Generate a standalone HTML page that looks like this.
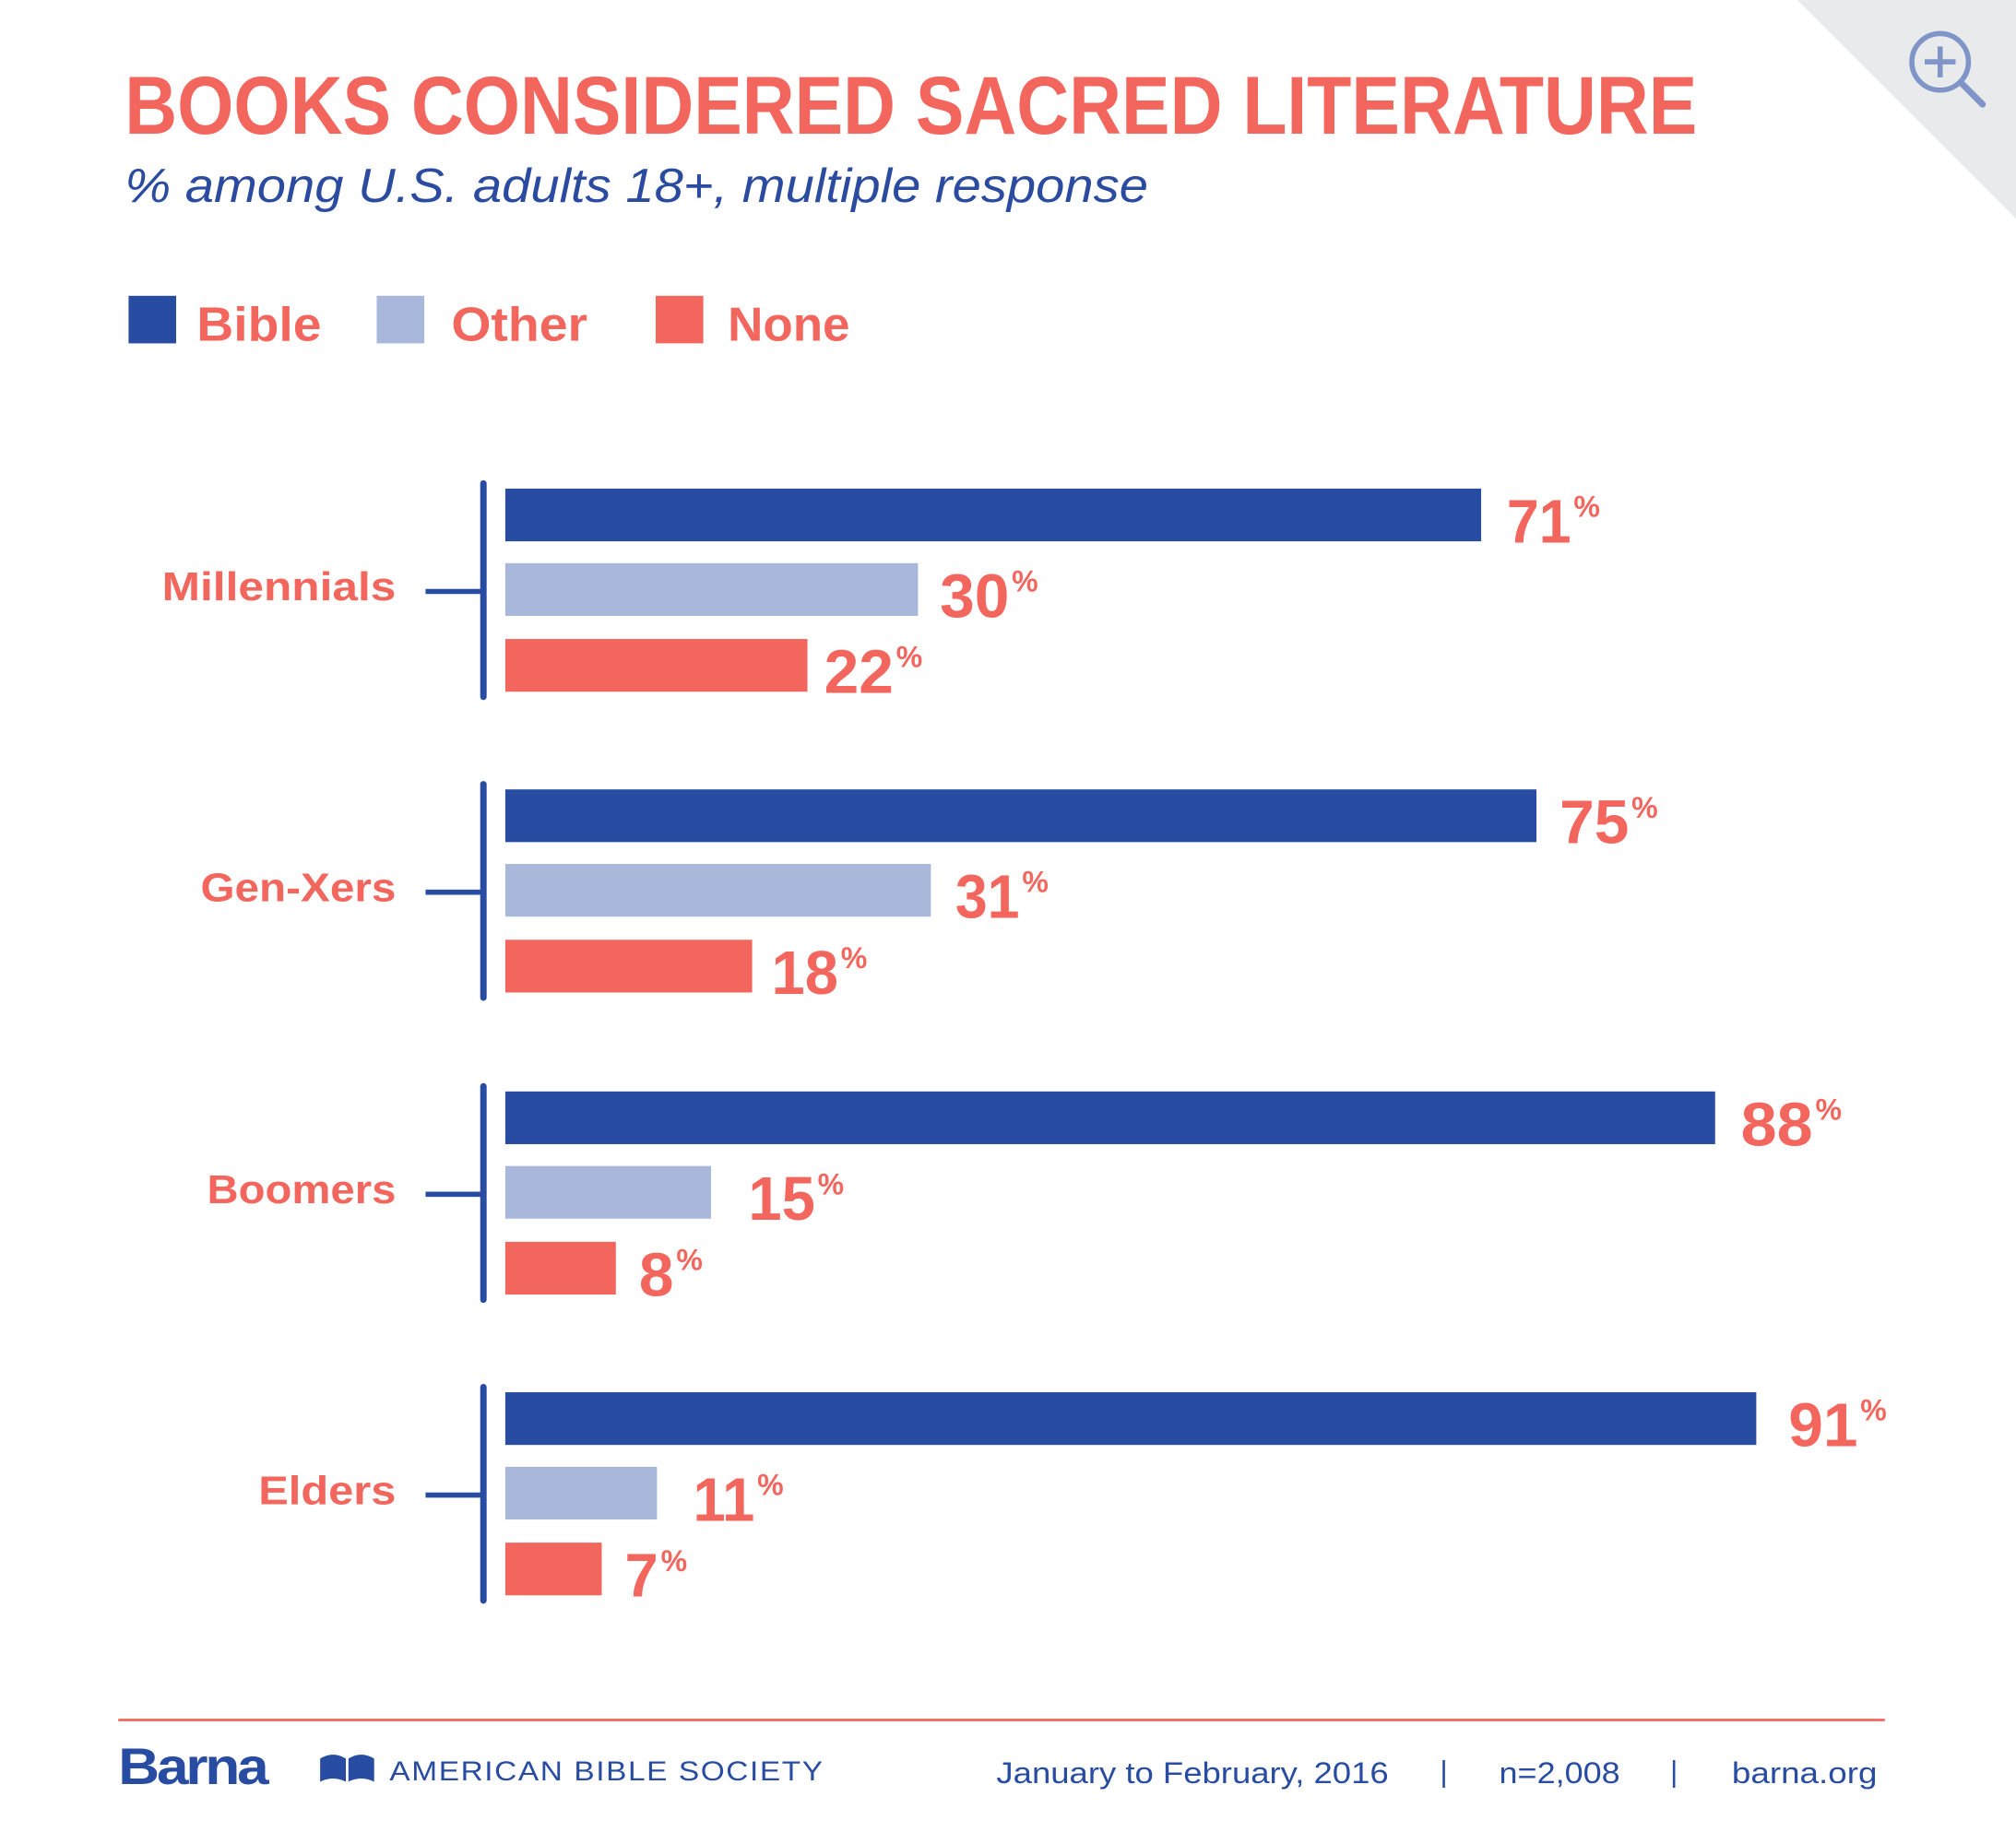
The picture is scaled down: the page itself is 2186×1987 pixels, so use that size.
<!DOCTYPE html>
<html><head><meta charset="utf-8"><style>
html,body{margin:0;padding:0;background:#fff;}
svg{display:block;}
text{font-family:"Liberation Sans",sans-serif;}
</style></head><body>
<svg width="2186" height="1987" viewBox="0 0 1568 1425" xmlns="http://www.w3.org/2000/svg">
<rect width="1568" height="1425" fill="#fff"/>
<polygon points="1398,0 1568,0 1568,170" fill="#e9eaec"/>
<circle cx="1509" cy="48" r="22" fill="none" stroke="#7f95c8" stroke-width="4"/>
<line x1="1509" y1="36" x2="1509" y2="60" stroke="#7f95c8" stroke-width="4"/>
<line x1="1497" y1="48" x2="1521" y2="48" stroke="#7f95c8" stroke-width="4"/>
<line x1="1525" y1="64" x2="1542" y2="81" stroke="#7f95c8" stroke-width="5" stroke-linecap="round"/>

<text x="97" y="104" font-size="64" font-weight="bold" fill="#f2665e" textLength="1223" lengthAdjust="spacingAndGlyphs">BOOKS CONSIDERED SACRED LITERATURE</text>
<text x="97" y="157" font-size="37" font-style="italic" fill="#2a4ba0" textLength="796" lengthAdjust="spacingAndGlyphs">% among U.S. adults 18+, multiple response</text>

<rect x="100" y="230" width="37" height="37" fill="#284ca1"/>
<text x="153" y="265" font-size="37" font-weight="bold" fill="#f2665e" textLength="97" lengthAdjust="spacingAndGlyphs">Bible</text>
<rect x="293" y="230" width="37" height="37" fill="#a9b7da"/>
<text x="351" y="265" font-size="37" font-weight="bold" fill="#f2665e" textLength="106" lengthAdjust="spacingAndGlyphs">Other</text>
<rect x="510" y="230" width="37" height="37" fill="#f2665e"/>
<text x="566" y="265" font-size="37" font-weight="bold" fill="#f2665e" textLength="95" lengthAdjust="spacingAndGlyphs">None</text>

<g stroke="#284ca1">
<line x1="376" y1="376" x2="376" y2="542" stroke-width="5" stroke-linecap="round"/>
<line x1="331" y1="460" x2="376" y2="460" stroke-width="4"/>
<line x1="376" y1="610" x2="376" y2="776" stroke-width="5" stroke-linecap="round"/>
<line x1="331" y1="694" x2="376" y2="694" stroke-width="4"/>
<line x1="376" y1="845" x2="376" y2="1011" stroke-width="5" stroke-linecap="round"/>
<line x1="331" y1="929" x2="376" y2="929" stroke-width="4"/>
<line x1="376" y1="1079" x2="376" y2="1245" stroke-width="5" stroke-linecap="round"/>
<line x1="331" y1="1163" x2="376" y2="1163" stroke-width="4"/>
</g>

<g font-size="31" font-weight="bold" fill="#f2665e">
<text x="126" y="467" textLength="182" lengthAdjust="spacingAndGlyphs">Millennials</text>
<text x="156" y="701" textLength="152" lengthAdjust="spacingAndGlyphs">Gen-Xers</text>
<text x="161" y="936" textLength="147" lengthAdjust="spacingAndGlyphs">Boomers</text>
<text x="201" y="1170" textLength="107" lengthAdjust="spacingAndGlyphs">Elders</text>
</g>

<rect x="393" y="380" width="759" height="41" fill="#284ca1"/>
<rect x="393" y="438" width="321" height="41" fill="#a9b7da"/>
<rect x="393" y="497" width="235" height="41" fill="#f2665e"/>
<rect x="393" y="614" width="802" height="41" fill="#284ca1"/>
<rect x="393" y="672" width="331" height="41" fill="#a9b7da"/>
<rect x="393" y="731" width="192" height="41" fill="#f2665e"/>
<rect x="393" y="849" width="941" height="41" fill="#284ca1"/>
<rect x="393" y="907" width="160" height="41" fill="#a9b7da"/>
<rect x="393" y="966" width="86" height="41" fill="#f2665e"/>
<rect x="393" y="1083" width="973" height="41" fill="#284ca1"/>
<rect x="393" y="1141" width="118" height="41" fill="#a9b7da"/>
<rect x="393" y="1200" width="75" height="41" fill="#f2665e"/>

<g font-weight="bold" fill="#f2665e">
<g font-size="48">
<text x="1172" y="422" textLength="50" lengthAdjust="spacingAndGlyphs">71</text>
<text x="731" y="480" textLength="54" lengthAdjust="spacingAndGlyphs">30</text>
<text x="641" y="539" textLength="54" lengthAdjust="spacingAndGlyphs">22</text>
<text x="1213" y="656" textLength="54" lengthAdjust="spacingAndGlyphs">75</text>
<text x="743" y="714" textLength="50" lengthAdjust="spacingAndGlyphs">31</text>
<text x="600" y="773" textLength="52" lengthAdjust="spacingAndGlyphs">18</text>
<text x="1354" y="891" textLength="56" lengthAdjust="spacingAndGlyphs">88</text>
<text x="582" y="949" textLength="52" lengthAdjust="spacingAndGlyphs">15</text>
<text x="497" y="1008" textLength="27" lengthAdjust="spacingAndGlyphs">8</text>
<text x="1391" y="1125" textLength="54" lengthAdjust="spacingAndGlyphs">91</text>
<text x="539" y="1183" textLength="48" lengthAdjust="spacingAndGlyphs">11</text>
<text x="486" y="1242" textLength="26" lengthAdjust="spacingAndGlyphs">7</text>
</g>
<g font-size="23">
<text x="1224" y="402">%</text>
<text x="787" y="460">%</text>
<text x="697" y="519">%</text>
<text x="1269" y="636">%</text>
<text x="795" y="694">%</text>
<text x="654" y="753">%</text>
<text x="1412" y="871">%</text>
<text x="636" y="929">%</text>
<text x="526" y="988">%</text>
<text x="1447" y="1105">%</text>
<text x="589" y="1163">%</text>
<text x="514" y="1222">%</text>
</g>
</g>

<line x1="92" y1="1338" x2="1466" y2="1338" stroke="#f2665e" stroke-width="2"/>
<text x="92" y="1388" font-size="40" font-weight="bold" fill="#284ca1" letter-spacing="-2" textLength="115" lengthAdjust="spacingAndGlyphs">Barna</text>
<g fill="#284ca1">
<path d="M249,1368 q10,-6 20,0 v18 q-10,-5 -20,0z"/>
<path d="M271,1368 q10,-6 20,0 v18 q-10,-5 -20,0z"/>
</g>
<text x="303" y="1385" font-size="21" fill="#284ca1" letter-spacing="1" textLength="338" lengthAdjust="spacingAndGlyphs">AMERICAN BIBLE SOCIETY</text>
<g font-size="23" fill="#284ca1">
<text x="775" y="1387" textLength="305" lengthAdjust="spacingAndGlyphs">January to February, 2016</text>
<text x="1120" y="1386">|</text>
<text x="1166" y="1387" textLength="94" lengthAdjust="spacingAndGlyphs">n=2,008</text>
<text x="1299" y="1386">|</text>
<text x="1347" y="1387" textLength="113" lengthAdjust="spacingAndGlyphs">barna.org</text>
</g>
</svg>
</body></html>
